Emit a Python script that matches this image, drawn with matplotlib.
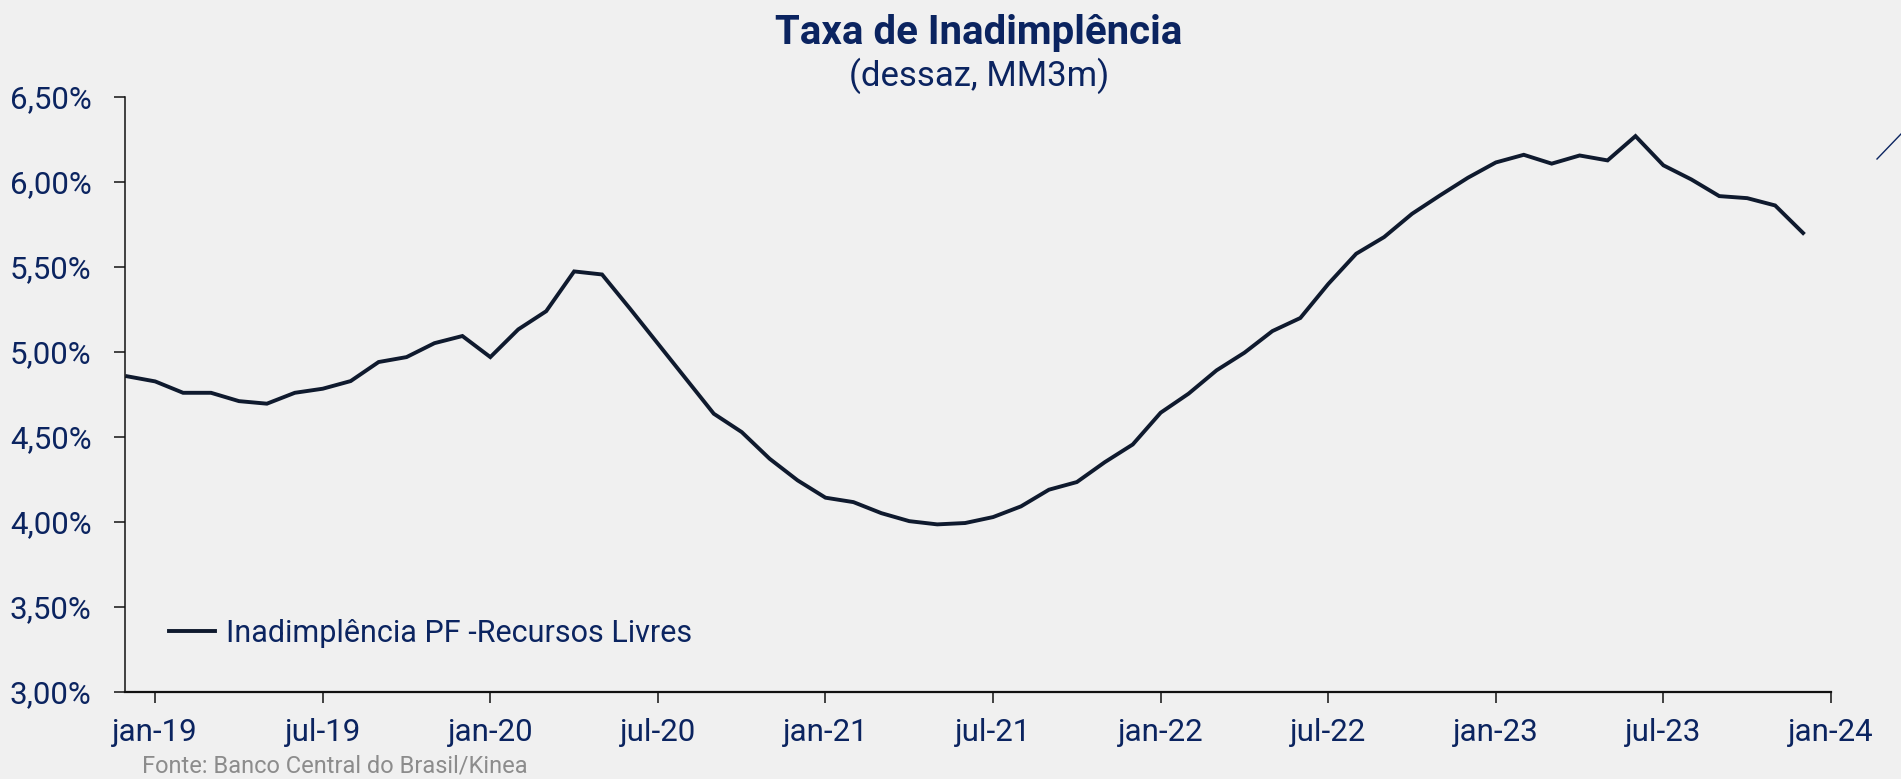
import matplotlib
matplotlib.use("Agg")
import matplotlib.pyplot as plt
from matplotlib.lines import Line2D

# ---- data (monthly, dec-18 .. dec-23) ----
start_label = "dez-18"
values = [
    4.857, 4.827, 4.760, 4.760, 4.711, 4.696, 4.760, 4.784, 4.829, 4.941,
    4.970, 5.052, 5.094, 4.970, 5.133, 5.240, 5.474, 5.456, 5.255, 5.049,
    4.843, 4.637, 4.529, 4.372, 4.245, 4.143, 4.117, 4.052, 4.005, 3.986,
    3.994, 4.029, 4.092, 4.190, 4.235, 4.352, 4.456, 4.643, 4.755, 4.892,
    4.996, 5.123, 5.200, 5.400, 5.578, 5.676, 5.813, 5.921, 6.025, 6.115,
    6.160, 6.108, 6.156, 6.127, 6.270, 6.098, 6.015, 5.917, 5.905, 5.862,
    5.700,
]
x_tick_labels = ["jan-19", "jul-19", "jan-20", "jul-20", "jan-21", "jul-21",
                 "jan-22", "jul-22", "jan-23", "jul-23", "jan-24"]
x_tick_months = [1, 7, 13, 19, 25, 31, 37, 43, 49, 55, 61]  # months after dez-18
y_ticks = [3.0, 3.5, 4.0, 4.5, 5.0, 5.5, 6.0, 6.5]
series_name = "Inadimplência PF -Recursos Livres"
title = "Taxa de Inadimplência"
subtitle = "(dessaz, MM3m)"
source = "Fonte: Banco Central do Brasil/Kinea"

# ---- style ----
BG = "#f0f0f0"
NAVY = "#0b2460"
LINE = "#0f1a2e"
plt.rcParams["font.family"] = ["Roboto", "DejaVu Sans"]

W, H = 1901, 779
fig = plt.figure(figsize=(W / 100, H / 100), dpi=100, facecolor=BG)
ax = fig.add_axes([125 / W, 1 - 692 / H, (1831 - 125) / W, (692 - 97) / H])
ax.set_facecolor(BG)

xs = list(range(len(values)))
ax.plot(xs, values, color=LINE, lw=2.8, solid_joinstyle="miter",
        label=series_name)

ax.set_xlim(-0.08, 61)
ax.set_ylim(3.0, 6.5)
ax.set_yticks(y_ticks)
ax.set_yticklabels([f"{v:.2f}%".replace(".", ",") for v in y_ticks])
ax.set_xticks(x_tick_months)
ax.set_xticklabels(x_tick_labels)

for s in ["top", "right"]:
    ax.spines[s].set_visible(False)
ax.spines["left"].set_color("#111111")
ax.spines["left"].set_linewidth(1.1)
ax.spines["bottom"].set_color("#111111")
ax.spines["bottom"].set_linewidth(1.6)

ax.tick_params(axis="y", direction="out", length=8, width=1.1, color="#111111",
               labelsize=22.5, labelcolor=NAVY, pad=16)
ax.tick_params(axis="x", direction="out", length=8, width=1.1, color="#111111",
               labelsize=22.5, labelcolor=NAVY, pad=11)

leg = ax.legend(loc="center left", bbox_to_anchor=(0.026, 0.099), frameon=False,
                fontsize=22, handlelength=1.5, handletextpad=0.35,
                borderpad=0, borderaxespad=0)
for t in leg.get_texts():
    t.set_color(NAVY)

fig.text(979 / W, 1 - 33 / H, title, ha="center", va="center",
         fontsize=29, fontweight="bold", color=NAVY)
fig.text(979 / W, 1 - 76 / H, subtitle, ha="center", va="center",
         fontsize=25, color=NAVY)
fig.text(142 / W, 1 - 766 / H, source, ha="left", va="center",
         fontsize=17, color="#8c8c8c")

# small stray diagonal stroke at the top-right edge
fig.add_artist(Line2D([1877 / W, 1.0], [1 - 159 / H, 1 - 134 / H],
                      transform=fig.transFigure, color=NAVY, lw=1.0))

fig.savefig("out.png", dpi=100, facecolor=BG)
